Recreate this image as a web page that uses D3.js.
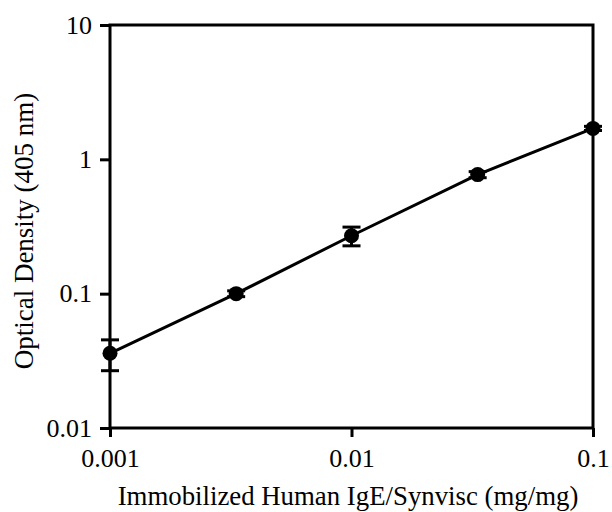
<!DOCTYPE html>
<html>
<head>
<meta charset="utf-8">
<script src="https://d3js.org/d3.v7.min.js"></script>
<style>
html,body{margin:0;padding:0;background:#fff;}
svg{display:block;}
text{font-family:"Liberation Serif","Times New Roman",serif;fill:#000;}
</style>
</head>
<body>
<svg id="chart" width="612" height="512"></svg>
<script>
const concentration = [0.001, 0.00333, 0.01, 0.0333, 0.1];
const opticalDensity = [0.036, 0.100, 0.270, 0.770, 1.70];
const errorSD = [0.0093, 0.005, 0.043, 0.04, 0.06];
const xTicks = [0.001, 0.01, 0.1];
const yTicks = [0.01, 0.1, 1, 10];
const xTickLabels = ["0.001", "0.01", "0.1"];
const yTickLabels = ["0.01", "0.1", "1", "10"];
const xTitle = "Immobilized Human IgE/Synvisc (mg/mg)";
const yTitle = "Optical Density (405 nm)";

const svg = d3.select("#chart");
const L = 110, R = 593, T = 25, B = 428;
const x = d3.scaleLog().domain([0.001, 0.1]).range([L, R]);
const y = d3.scaleLog().domain([0.01, 10]).range([B, T]);

const lw = 3;
// frame
svg.append("rect").attr("x", L).attr("y", T).attr("width", R - L).attr("height", B - T)
  .attr("fill", "none").attr("stroke", "#000").attr("stroke-width", lw);

const yAxis = svg.append("g").attr("transform", `translate(${L},0)`)
  .call(d3.axisLeft(y).tickValues(yTicks).tickSize(10).tickPadding(8)
    .tickFormat((d, i) => yTickLabels[i]));
const xAxis = svg.append("g").attr("transform", `translate(0,${B})`)
  .call(d3.axisBottom(x).tickValues(xTicks).tickSize(9).tickPadding(12)
    .tickFormat((d, i) => xTickLabels[i]));
[yAxis, xAxis].forEach(g => {
  g.attr("font-size", null).attr("font-family", null);
  g.select(".domain").remove();
  g.selectAll(".tick line").attr("stroke", "#000").attr("stroke-width", lw);
  g.selectAll(".tick text").style("font-size", "26px").style("font-family", "'Liberation Serif', serif");
});

const data = concentration.map((c, i) => ({c, v: opticalDensity[i], e: errorSD[i]}));

// line
svg.append("path").datum(data)
  .attr("fill", "none").attr("stroke", "#000").attr("stroke-width", 3)
  .attr("d", d3.line().x(d => x(d.c)).y(d => y(d.v)));

// error bars
const eb = svg.append("g").attr("stroke", "#000").attr("stroke-width", 3);
data.forEach(d => {
  const cx = x(d.c), y1 = y(d.v + d.e), y2 = y(d.v - d.e);
  eb.append("line").attr("x1", cx).attr("x2", cx).attr("y1", y1).attr("y2", y2);
  eb.append("line").attr("x1", cx - 9).attr("x2", cx + 9).attr("y1", y1).attr("y2", y1);
  eb.append("line").attr("x1", cx - 9).attr("x2", cx + 9).attr("y1", y2).attr("y2", y2);
});

// markers
svg.append("g").selectAll("circle").data(data).join("circle")
  .attr("cx", d => x(d.c)).attr("cy", d => y(d.v)).attr("r", 7.5).attr("fill", "#000");

// titles
svg.append("text").attr("x", 348).attr("y", 505).attr("text-anchor", "middle")
  .style("font-size", "26.8px").text(xTitle);
svg.append("text").attr("transform", `translate(33,231) rotate(-90)`)
  .attr("text-anchor", "middle").style("font-size", "27px").text(yTitle);
</script>
</body>
</html>
